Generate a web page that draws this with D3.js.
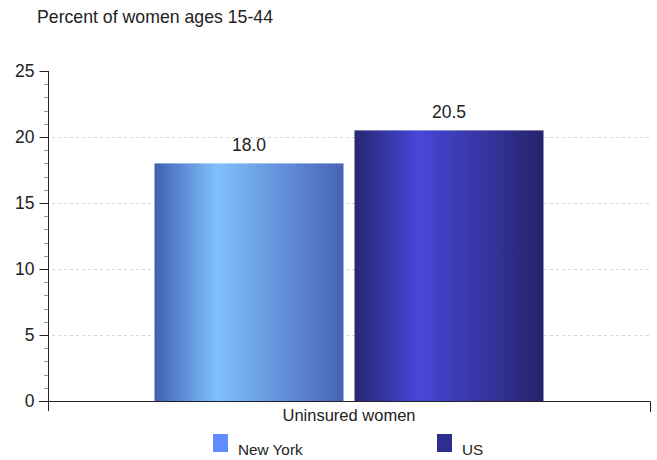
<!DOCTYPE html>
<html>
<head>
<meta charset="utf-8">
<script src="https://cdn.jsdelivr.net/npm/d3@7"></script>
<style>
  html, body { margin: 0; padding: 0; background: #fff; }
  svg { display: block; }
  text { font-family: "Liberation Sans", Arial, sans-serif; fill: #222; }
</style>
</head>
<body>
<svg id="chart" width="657" height="460"></svg>
<script>
// Chart data
const categories = ["Uninsured women"];
const seriesNames = ["New York", "US"];
const seriesValues = [18.0, 20.5];
const yTicks = [0, 5, 10, 15, 20, 25];
const titleText = "Percent of women ages 15-44";

// Gradient stops for each series (dark edge, bright highlight, dark edge)
const seriesGradients = [
  [["0%", "#4160b0"], ["33%", "#80c0ff"], ["100%", "#4763b4"]],
  [["0%", "#262873"], ["34%", "#4747d9"], ["100%", "#26236a"]]
];
const legendColors = ["#5f8cff", "#2e2e8f"];

const svg = d3.select("#chart");
const margin = { left: 48, right: 650, top: 71, bottom: 401 };

const y = d3.scaleLinear().domain([0, 25]).range([margin.bottom, margin.top]);
const x0 = d3.scaleBand().domain(categories)
  .range([margin.left, margin.right]).paddingInner(0).paddingOuter(0.2738);
const x1 = d3.scaleBand().domain(seriesNames)
  .range([0, x0.bandwidth()]).paddingInner(0.055).paddingOuter(0);

// Gradients
const defs = svg.append("defs");
seriesGradients.forEach((stops, i) => {
  const g = defs.append("linearGradient").attr("id", "grad" + i)
    .attr("x1", "0%").attr("x2", "100%").attr("y1", "0%").attr("y2", "0%");
  stops.forEach(s => g.append("stop").attr("offset", s[0]).attr("stop-color", s[1]));
});

// Title
svg.append("text").attr("x", 37).attr("y", 23)
  .style("font-size", "17.7px").text(titleText);

// Dashed grid lines
svg.append("g").selectAll("line")
  .data(yTicks.filter(d => d > 0 && d < 25))
  .join("line")
  .attr("x1", margin.left + 4).attr("x2", margin.right)
  .attr("y1", d => Math.round(y(d)) + 0.5).attr("y2", d => Math.round(y(d)) + 0.5)
  .attr("stroke", "#d4d4d4").attr("stroke-dasharray", "3,3");

// Minor ticks at every unit
svg.append("g").selectAll("line")
  .data(d3.range(1, 25).filter(d => d % 5 !== 0))
  .join("line")
  .attr("x1", margin.left - 4).attr("x2", margin.left)
  .attr("y1", d => Math.round(y(d)) + 0.5).attr("y2", d => Math.round(y(d)) + 0.5)
  .attr("stroke", "#999");

// Y axis
const yAxis = d3.axisLeft(y).tickValues(yTicks).tickSize(9).tickPadding(5)
  .tickFormat(d3.format("d"));
const gy = svg.append("g").attr("transform", `translate(${margin.left + 0.5},0)`).call(yAxis);
gy.select(".domain").remove();
gy.selectAll(".tick line").attr("stroke", "#222");
gy.selectAll(".tick text").style("font-size", "17.5px")
  .style("font-family", "'Liberation Sans', Arial, sans-serif").attr("fill", "#222");
svg.append("line").attr("x1", margin.left + 0.5).attr("x2", margin.left + 0.5)
  .attr("y1", margin.top).attr("y2", margin.bottom + 10).attr("stroke", "#222");

// Bars
const bars = seriesNames.map((s, i) => ({ cat: categories[0], series: s, value: seriesValues[i], i }));
const gBars = svg.append("g");
gBars.selectAll("rect").data(bars).join("rect")
  .attr("x", d => x0(d.cat) + x1(d.series))
  .attr("width", x1.bandwidth())
  .attr("y", d => y(d.value))
  .attr("height", d => y(0) - y(d.value))
  .attr("fill", d => `url(#grad${d.i})`);

// Value labels
gBars.selectAll("text").data(bars).join("text")
  .attr("x", d => x0(d.cat) + x1(d.series) + x1.bandwidth() / 2)
  .attr("y", d => y(d.value) - 12)
  .attr("text-anchor", "middle")
  .style("font-size", "17.5px")
  .text(d => d.value.toFixed(1));

// Baseline with right end tick
svg.append("path")
  .attr("d", `M${margin.left - 9},${margin.bottom + 0.5}H${margin.right + 0.5}V${margin.bottom + 11}`)
  .attr("fill", "none").attr("stroke", "#222");

// Category label
svg.selectAll(".cat").data(categories).join("text").attr("class", "cat")
  .attr("x", d => x0(d) + x0.bandwidth() / 2)
  .attr("y", 421)
  .attr("text-anchor", "middle")
  .style("font-size", "16.5px")
  .text(d => d);

// Legend
const legendX = [213, 437];
const lg = svg.append("g").selectAll("g").data(seriesNames).join("g")
  .attr("transform", (d, i) => `translate(${legendX[i]},434)`);
lg.append("rect").attr("width", 15).attr("height", 18)
  .attr("fill", (d, i) => legendColors[i]);
lg.append("text").attr("x", 25).attr("y", 21)
  .style("font-size", "15.3px").text(d => d);
</script>
</body>
</html>
